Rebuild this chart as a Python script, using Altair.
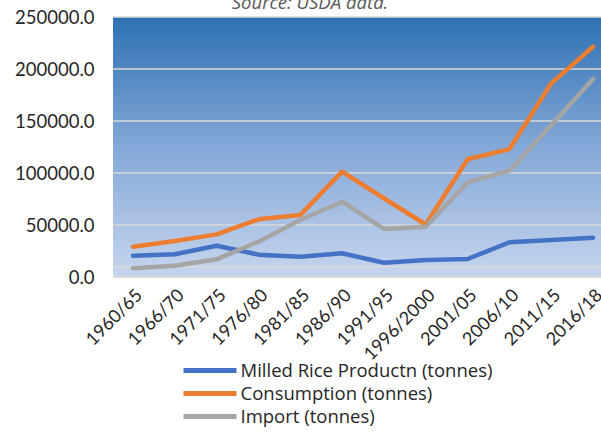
import altair as alt
import pandas as pd

periods = ["1960/65", "1966/70", "1971/75", "1976/80", "1981/85", "1986/90",
           "1991/95", "1996/2000", "2001/05", "2006/10", "2011/15", "2016/18"]
production = [20500, 21800, 30100, 21500, 19500, 22800, 13700, 16300, 17300, 33400, 35600, 37800]
consumption = [29100, 34600, 41000, 55500, 59600, 101300, 75700, 50500, 113200, 123000, 186200, 221400]
imports = [8400, 10900, 17000, 34000, 54800, 72400, 46200, 48400, 91000, 102200, 146000, 190400]
series_names = ["Milled Rice Productn (tonnes)", "Consumption (tonnes)", "Import (tonnes)"]
series_colors = ["#4472C4", "#ED7D31", "#A5A5A5"]
y_ticks = [0, 10000, 50000, 100000, 150000, 200000, 250000]

rows = []
for name, vals in zip(series_names, [production, consumption, imports]):
    for i, (p, v) in enumerate(zip(periods, vals)):
        rows.append({"idx": i, "period": p, "series": name, "value": v})
df = pd.DataFrame(rows)
grid_df = pd.DataFrame({"value": y_ticks})

FONT = "Lato"
LFONT = "Open Sans"
FS = 18
W, H = 488, 260
yscale = alt.Scale(domain=[0, 250000], nice=False, zero=True)
xscale = alt.Scale(domain=[-0.478, 11.19], nice=False, zero=False)

yaxis = alt.Axis(values=y_ticks,
                 labelExpr="datum.value == 10000 ? '' : format(datum.value, '.1f')",
                 ticks=False, domain=False, grid=False, labelPadding=19,
                 labelFont=FONT, labelFontSize=18.5, labelColor="#262626")

bg = alt.Chart(pd.DataFrame({"a": [0]})).mark_rect(
    fill=alt.Gradient(
        gradient="linear", x1=0, y1=0, x2=0, y2=1,
        stops=[alt.GradientStop(color="#2e71b3", offset=0),
               alt.GradientStop(color="#84a8d7", offset=0.5),
               alt.GradientStop(color="#c6d5ee", offset=1)]),
).encode(x=alt.value(0), x2=alt.value("width"), y=alt.value(0), y2=alt.value("height"))

grid = alt.Chart(grid_df).mark_rule(color="#d9d9d9", strokeWidth=1.6).encode(
    y=alt.Y("value:Q", scale=yscale, title=None, axis=yaxis)
)

label_array = "[" + ",".join("'%s'" % p for p in periods) + "]"

lines = alt.Chart(df).mark_line(strokeWidth=4.5, strokeCap="round", strokeJoin="round").encode(
    x=alt.X("idx:Q", scale=xscale, title=None,
            axis=alt.Axis(values=list(range(len(periods))),
                          labelExpr=label_array + "[datum.value]",
                          labelAngle=-45, labelAlign="right", labelBaseline="top",
                          labelPadding=9, ticks=False, domain=False, grid=False,
                          labelFont=FONT, labelFontSize=FS, labelColor="#262626",
                          labelOverlap=False, labelBound=False, labelFlush=False)),
    y=alt.Y("value:Q", scale=yscale, title=None, axis=yaxis),
    color=alt.Color("series:N",
                    scale=alt.Scale(domain=series_names, range=series_colors),
                    legend=alt.Legend(title=None, orient="none", legendX=84.5, legendY=341,
                                      symbolType="M-2.65,0H2.65", symbolSize=400,
                                      symbolStrokeWidth=5, labelOffset=18, labelLimit=500,
                                      labelFont=LFONT, labelFontSize=18.5, labelColor="#262626",
                                      rowPadding=-2.5, padding=0)),
    detail="series:N",
)

chart = alt.layer(bg, grid, lines).properties(
    width=W, height=H,
    title=alt.TitleParams("Source: USDA data.", font=LFONT, fontSize=18.5, fontStyle="italic",
                          fontWeight="normal", color="#595959", anchor="middle",
                          frame="group", dx=-47, dy=19, offset=0, baseline="alphabetic"),
    autosize=alt.AutoSizeParams(type="none"),
    padding={"left": 113, "top": 17, "right": 0, "bottom": 155},
).configure_view(stroke=None).configure(background="white")

chart.save("out.html", embed_options={"renderer": "svg", "actions": False})
